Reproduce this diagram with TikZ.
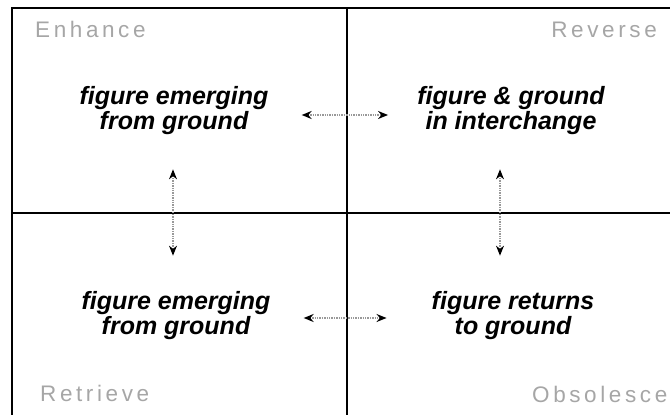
\documentclass[tikz,border=0pt]{standalone}
\usepackage{fontspec}
\setmainfont{Liberation Sans}
\newfontfamily\cornerfont{Liberation Sans}[LetterSpace=16]
\usetikzlibrary{positioning, arrows.meta}

\begin{document}
\begin{tikzpicture}[x=1pt, y=-1pt,
  phase/.style={font=\fontsize{25}{25}\selectfont\bfseries\itshape, align=center, inner sep=0pt},
  corner/.style={font=\fontsize{22.5}{23}\cornerfont, text=gray!70, inner sep=0pt},
  grid/.style={line width=1.6pt, black},
  swap/.style={{Stealth[black, length=10pt, width=8pt]}-{Stealth[black, length=10pt, width=8pt]},
               gray!80, densely dotted, line width=1.4pt},
]
  \useasboundingbox (0,0) rectangle (670,415);
  \clip (0,0) rectangle (670,415);

  % quadrant frame
  \draw[grid] (12,8) rectangle (680,425);
  \draw[grid] (347,8) -- (347,425);
  \draw[grid] (12,213) -- (680,213);

  % corner labels
  \node[corner, anchor=base west] (enh) at (35,37) {Enhance};
  \node[corner, anchor=base east] (rev) at (657,37) {Reverse};
  \node[corner, anchor=base west] (ret) at (40,401) {Retrieve};
  \node[corner, anchor=base west] (obs) at (532,402) {Obsolesce};

  % phases
  \node[phase] (tl) at (174,111) {figure emerging\\from ground};
  \node[phase] (tr) at (511,111) {figure \& ground\\in interchange};
  \node[phase] (bl) at (176,316) {figure emerging\\from ground};
  \node[phase] (br) at (513,316) {figure returns\\to ground};

  \draw[swap, shorten <=33pt, shorten >=29pt] ([yshift=-4pt]tl.east) -- ([yshift=-4pt]tr.west);
  \draw[swap, shorten <=33pt, shorten >=45pt] ([yshift=-2pt]bl.east) -- ([yshift=-2pt]br.west);
  \draw[swap, shorten <=34pt, shorten >=36pt] ([xshift=-1pt]tl.south) -- ([xshift=-3pt]bl.north);
  \draw[swap, shorten <=34pt, shorten >=36pt] ([xshift=-11pt]tr.south) -- ([xshift=-13pt]br.north);
\end{tikzpicture}
\end{document}
